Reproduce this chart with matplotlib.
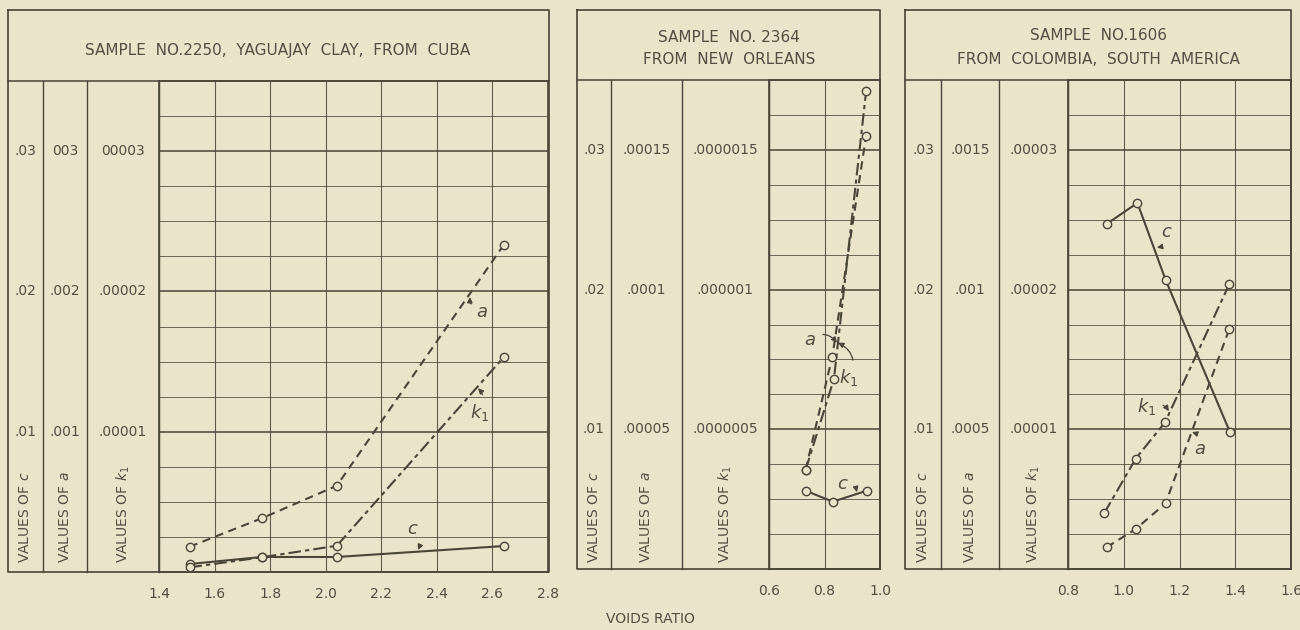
import numpy as np
import matplotlib
matplotlib.use("Agg")
from matplotlib import pyplot as plt
from matplotlib.transforms import blended_transform_factory

# colores del papel y la tinta
FONDO = "#ECE3CB"
TINTA = "#4B4438"
TEXTO = "#554D42"

plt.rcParams["font.family"] = ["DejaVu Sans"]
plt.rcParams["lines.scale_dashes"] = False
plt.rcParams["mathtext.fontset"] = "dejavusans"

# ---- datos: muestra 2250, Cuba ----
cuba_void = [1.51, 1.77, 2.04, 2.64]
cuba_c = [0.00057, 0.00107, 0.00107, 0.00185]
cuba_a = [0.00018, 0.000383, 0.000615, 0.00233]
cuba_k1 = [3.3e-7, 1.05e-6, 1.87e-6, 1.53e-5]
cuba_xticks = [1.4, 1.6, 1.8, 2.0, 2.2, 2.4, 2.6, 2.8]
cuba_xlabels = ["1.4", "1.6", "1.8", "2.0", "2.2", "2.4", "2.6", "2.8"]
cuba_cols = [[".01", ".02", ".03"], [".001", ".002", "003"], [".00001", ".00002", "00003"]]

# ---- datos: muestra 2364, New Orleans ----
nola_void_c = [0.732, 0.830, 0.952]
nola_c = [0.0056, 0.00482, 0.0056]
nola_void_a = [0.732, 0.828, 0.950]
nola_a = [3.55e-5, 7.6e-5, 1.55e-4]
nola_void_k1 = [0.732, 0.834, 0.950]
nola_k1 = [3.55e-7, 6.8e-7, 1.71e-6]
nola_xticks = [0.6, 0.8, 1.0]
nola_xlabels = ["0.6", "0.8", "1.0"]
nola_cols = [[".01", ".02", ".03"], [".00005", ".0001", ".00015"],
             [".0000005", ".000001", ".0000015"]]

# ---- datos: muestra 1606, Colombia ----
col_void_c = [0.939, 1.049, 1.150, 1.381]
col_c = [0.0247, 0.0262, 0.0207, 0.0098]
col_void_k1 = [0.930, 1.043, 1.148, 1.379]
col_k1 = [4.0e-6, 7.9e-6, 1.05e-5, 2.04e-5]
col_void_a = [0.939, 1.043, 1.150, 1.379]
col_a = [7.8e-5, 1.43e-4, 2.35e-4, 8.6e-4]
col_xticks = [0.8, 1.0, 1.2, 1.4, 1.6]
col_xlabels = ["0.8", "1.0", "1.2", "1.4", "1.6"]
col_cols = [[".01", ".02", ".03"], [".0005", ".001", ".0015"], [".00001", ".00002", ".00003"]]

c_ticks = [0.01, 0.02, 0.03]

W, H = 1300, 630
fig = plt.figure(figsize=(W / 100, H / 100), dpi=100)
fig.patch.set_facecolor(FONDO)

# eje de fondo en pixeles (y hacia abajo)
bg = fig.add_axes([0, 0, 1, 1])
bg.set_xlim(0, W)
bg.set_ylim(H, 0)
bg.axis("off")


def caja_panel(x0, y0, x1, y1, ybanda, divs):
    # marco, banda del titulo y columnas de valores
    bg.plot([x0, x1, x1, x0, x0], [y0, y0, y1, y1, y0], color=TINTA, lw=1.2)
    bg.plot([x0, x1], [ybanda, ybanda], color=TINTA, lw=1.1)
    for d in divs:
        bg.plot([d, d], [ybanda, y1], color=TINTA, lw=1.0)


def eje_datos(x0, y0, x1, y1, xlim, xticks, xlabels):
    ax = fig.add_axes([x0 / W, 1 - y1 / H, (x1 - x0) / W, (y1 - y0) / H])
    ax.set_facecolor("none")
    ax.set_xlim(*xlim)
    ax.set_ylim(0, 0.035)
    ax.set_xticks(xticks, xlabels)
    ax.set_yticks(c_ticks)
    ax.set_yticks(np.arange(0.0025, 0.035, 0.0025), minor=True)
    ax.set_yticklabels([])
    ax.tick_params(axis="both", which="both", length=0)
    ax.tick_params(axis="x", pad=11, labelsize=10, labelcolor=TEXTO)
    ax.grid(True, axis="y", which="major", color=TINTA, lw=1.1)
    ax.grid(True, axis="y", which="minor", color=TINTA, lw=0.7, alpha=0.8)
    ax.grid(True, axis="x", which="major", color=TINTA, lw=0.8, alpha=0.85)
    for s in ax.spines.values():
        s.set_color(TINTA)
        s.set_linewidth(1.2)
    return ax


def columnas(ax, centros, etiquetas):
    tr = blended_transform_factory(bg.transData, ax.transData)
    for xc, labs in zip(centros, etiquetas):
        for v, s in zip(c_ticks, labs):
            bg.text(xc, v, s, transform=tr, ha="center", va="center",
                    fontsize=10, color=TEXTO)
    nombres = ["VALUES OF $c$", "VALUES OF $a$", "VALUES OF $k_1$"]
    for xc, n in zip(centros, nombres):
        bg.text(xc, 563, n, rotation=90, ha="center", va="bottom",
                fontsize=10, color=TEXTO)


def curva(ax, x, y, estilo):
    ax.plot(x, y, color=TINTA, lw=1.5, marker="o", ms=6, mfc=FONDO,
            mec=TINTA, mew=1.0, **estilo)


def nota(ax, s, xy, xytext, rad):
    ax.annotate(s, xy=xy, xytext=xytext, fontsize=13, color=TEXTO,
                ha="center", va="center",
                arrowprops=dict(arrowstyle="-|>", color=TINTA, lw=0.9,
                                mutation_scale=8, shrinkA=3, shrinkB=0,
                                connectionstyle="arc3,rad=%s" % rad))


SOLIDA = dict(linestyle="-")
RAYAS = dict(dashes=(6, 4))
RAYA_PUNTO = dict(dashes=(9, 3, 3, 3))

# ---- panel izquierdo ----
caja_panel(8, 10, 549, 572, 81, [43, 87, 159])
bg.text(278, 50, "SAMPLE  NO.2250,  YAGUAJAY  CLAY,  FROM  CUBA", ha="center",
        va="center", fontsize=11, color=TEXTO)
ax1 = eje_datos(159, 81, 548, 572, (1.4, 2.8), cuba_xticks, cuba_xlabels)
columnas(ax1, [25.5, 65, 123], cuba_cols)
curva(ax1, cuba_void, np.array(cuba_c), SOLIDA)
curva(ax1, cuba_void, np.array(cuba_a) * 10, RAYAS)
curva(ax1, cuba_void, np.array(cuba_k1) * 1000, RAYA_PUNTO)
nota(ax1, "$a$", (2.519, 0.0196), (2.562, 0.0185), -0.4)
nota(ax1, "$k_1$", (2.548, 0.0131), (2.555, 0.0114), 0.4)
nota(ax1, "$c$", (2.332, 0.00157), (2.312, 0.0031), -0.4)

# ---- panel central ----
caja_panel(577, 10, 880, 569, 80, [611, 682, 769])
bg.text(729, 37, "SAMPLE  NO. 2364", ha="center", va="center", fontsize=11, color=TEXTO)
bg.text(729, 60, "FROM  NEW  ORLEANS", ha="center", va="center", fontsize=11, color=TEXTO)
ax2 = eje_datos(769, 80, 880, 569, (0.6, 1.0), nola_xticks, nola_xlabels)
columnas(ax2, [594, 646.5, 725.5], nola_cols)
curva(ax2, nola_void_c, np.array(nola_c), SOLIDA)
curva(ax2, nola_void_a, np.array(nola_a) * 200, RAYAS)
curva(ax2, nola_void_k1, np.array(nola_k1) * 20000, RAYA_PUNTO)
nota(ax2, "$a$", (0.845, 0.0162), (0.748, 0.0164), -0.5)
nota(ax2, "$k_1$", (0.849, 0.0162), (0.888, 0.0137), 0.5)
nota(ax2, "$c$", (0.917, 0.0055), (0.867, 0.0061), -0.5)

# ---- panel derecho ----
caja_panel(905, 10, 1291, 569, 80, [941, 999, 1068])
bg.text(1098, 36, "SAMPLE  NO.1606", ha="center", va="center", fontsize=11, color=TEXTO)
bg.text(1098, 59, "FROM  COLOMBIA,  SOUTH  AMERICA", ha="center", va="center",
        fontsize=11, color=TEXTO)
ax3 = eje_datos(1068, 80, 1291, 569, (0.8, 1.6), col_xticks, col_xlabels)
columnas(ax3, [923, 970, 1033.5], col_cols)
curva(ax3, col_void_c, np.array(col_c), SOLIDA)
curva(ax3, col_void_k1, np.array(col_k1) * 1000, RAYA_PUNTO)
curva(ax3, col_void_a, np.array(col_a) * 20, RAYAS)
nota(ax3, "$c$", (1.119, 0.0230), (1.155, 0.0241), -0.5)
nota(ax3, "$k_1$", (1.162, 0.0113), (1.083, 0.0116), -0.5)
nota(ax3, "$a$", (1.245, 0.0098), (1.274, 0.0086), 0.5)

bg.text(650, 619, "VOIDS RATIO", ha="center", va="center", fontsize=10, color=TEXTO)

plt.savefig("out.png", dpi=100, facecolor=FONDO)
